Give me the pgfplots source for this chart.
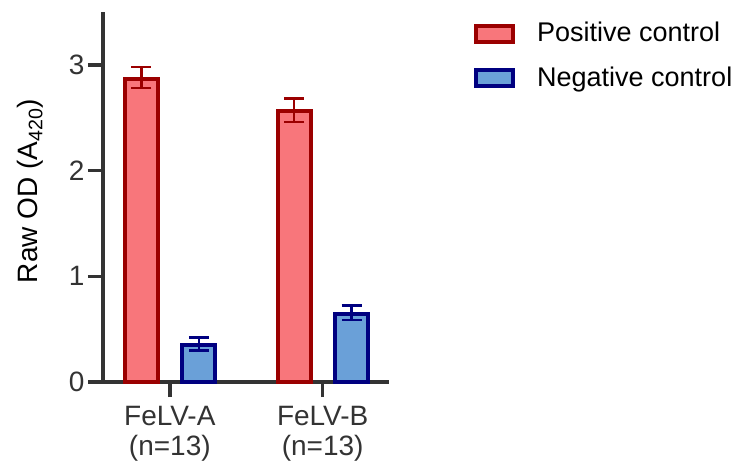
\documentclass[border=0pt]{standalone}
\usepackage{pgfplots}
\pgfplotsset{compat=1.18}
\usepackage{pgfplotstable}
\usepackage{fontspec}
\setmainfont{Liberation Sans}
\definecolor{posfill}{RGB}{248,118,123}
\definecolor{posedge}{RGB}{155,0,0}
\definecolor{negfill}{RGB}{106,160,216}
\definecolor{negedge}{RGB}{0,0,128}
\definecolor{axgray}{RGB}{51,51,51}
\pgfplotstableread{
x y ep em
0 2.87 0.11 0.09
1 2.56 0.12 0.10
}\pos
\pgfplotstableread{
x y ep em
0 0.35 0.07 0.05
1 0.645 0.08 0.06
}\neg
\begin{document}
\fontsize{28}{29}\selectfont
\begin{tikzpicture}
\useasboundingbox (-103pt,-79pt) rectangle (631pt,382pt);
\begin{axis}[
  scale only axis,
  width=286pt, height=370pt,
  xmin=-0.437, xmax=1.434,
  ymin=0, ymax=3.5,
  axis x line=bottom, axis y line=left,
  axis line style={-, line width=3.5pt, color=axgray},
  tick style={line width=3.5pt, color=axgray},
  major tick length=15pt,
  tick align=outside,
  xtick={0,1},
  xticklabels={FeLV-A\\(n=13), FeLV-B\\(n=13)},
  xticklabel style={align=center, text=axgray, font=\fontsize{28}{30}\selectfont},
  ytick={0,1,2,3},
  yticklabel style={text=axgray, xshift=6pt, font=\fontsize{28}{29}\selectfont},
  /pgf/number format/assume math mode=true,
  ylabel={Raw OD (A\textsubscript{420})},
  ylabel style={at={(axis description cs:-0.255,0.516)}, anchor=center, text=black, font=\fontsize{28}{29}\selectfont},
  ybar, bar width=33pt,
  legend style={at={(axis description cs:1.2867,0.985)}, anchor=north west, draw=none, fill=none,
    font=\fontsize{27}{28}\selectfont, text=black, row sep=17pt,
    /tikz/every odd column/.append style={column sep=20pt}},
  legend cell align=left,
  legend image code/.code={\draw[#1, line width=4pt] (0pt,-8pt) rectangle (37pt,8pt);},
  clip=false,
]
\addplot[bar shift=-28.5pt, fill=posfill, draw=posedge, line width=4pt,
  error bars/.cd, y dir=both, y explicit, error mark=|,
  error bar style={line width=2.5pt, color=posedge},
  error mark options={line width=2.5pt, mark size=10pt, color=posedge}]
  table[x=x, y=y, y error plus=ep, y error minus=em] {\pos};
\addlegendentry{Positive control}
\addplot[bar shift=29pt, fill=negfill, draw=negedge, line width=4pt,
  error bars/.cd, y dir=both, y explicit, error mark=|,
  error bar style={line width=2.5pt, color=negedge},
  error mark options={line width=2.5pt, mark size=10pt, color=negedge}]
  table[x=x, y=y, y error plus=ep, y error minus=em] {\neg};
\addlegendentry{Negative control}
\end{axis}
\end{tikzpicture}
\end{document}
